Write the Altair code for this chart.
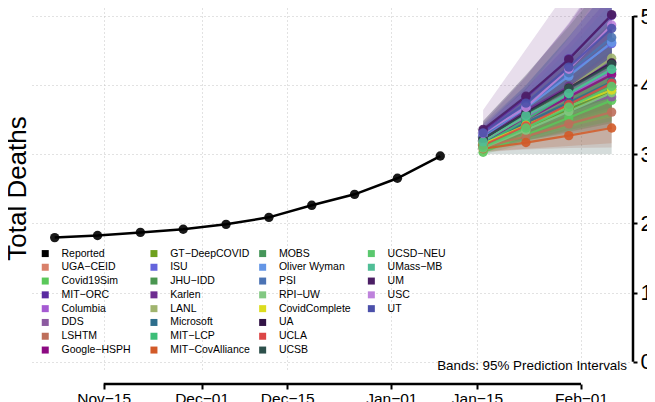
import altair as alt
import pandas as pd

FONT = "Liberation Sans"

# ---------------- data ----------------
reported_dates = ["2020-11-07", "2020-11-14", "2020-11-21", "2020-11-28", "2020-12-05",
                  "2020-12-12", "2020-12-19", "2020-12-26", "2021-01-02", "2021-01-09"]
reported_deaths = [17950, 18250, 18700, 19150, 19870, 20880, 22620, 24210, 26530, 29750]

forecast_dates = ["2021-01-16", "2021-01-23", "2021-01-30", "2021-02-06"]

models = ["UGA\u2212CEID", "Covid19Sim", "MIT\u2212ORC", "Columbia", "DDS", "LSHTM", "Google\u2212HSPH",
          "GT\u2212DeepCOVID", "ISU", "JHU\u2212IDD", "Karlen", "LANL", "Microsoft", "MIT\u2212LCP",
          "MIT\u2212CovAlliance", "MOBS", "Oliver Wyman", "PSI", "RPI\u2212UW", "CovidComplete",
          "UA", "UCLA", "UCSB", "UCSD\u2212NEU", "UMass\u2212MB", "UM", "USC", "UT"]
model_colors = ["#d9806a", "#5ac85a", "#5a2aa0", "#a55ad2", "#8c5aa0", "#be6e5a", "#8c0a82",
                "#6ea01e", "#6464dc", "#4a9650", "#6e2d91", "#a0b46e", "#2d6e8c", "#3cbe78",
                "#d25a28", "#46965a", "#6496e6", "#4b73b4", "#82c882", "#dcdc1e",
                "#321446", "#dc4646", "#2d504b", "#5ac86e", "#50be96", "#4b1e64", "#be82dc", "#4b50aa"]

fc_mid = [
    [31200, 34000, 36900, 39700], [30300, 32800, 35300, 37800], [33400, 38200, 43800, 50100],
    [32400, 35400, 38600, 41900], [32100, 34600, 37000, 38300], [31000, 32600, 34400, 36100],
    [31800, 35000, 38300, 41500], [31200, 33800, 36500, 39000], [32800, 36900, 41600, 46000],
    [31500, 34300, 37000, 39800], [32500, 36300, 39800, 43300], [31900, 35600, 39600, 43900],
    [31600, 34600, 37500, 40500], [31400, 35000, 38800, 42300], [30800, 31700, 32700, 33800],
    [31300, 34000, 36700, 39400], [32600, 36700, 41300, 46200], [32700, 37000, 41800, 46900],
    [30900, 33500, 36200, 38900], [31500, 34200, 36900, 39300], [32200, 36000, 39600, 43200],
    [31300, 34100, 37200, 40300], [32300, 35800, 39500, 43000], [31000, 33800, 36800, 39800],
    [31800, 35600, 38800, 42300], [33600, 38400, 43700, 50200], [33000, 36800, 42300, 48700],
    [33100, 37400, 42600, 48200]]
fc_lo = [
    [30600, 32000, 33200, 34500], [30000, 31500, 32800, 34000], [32400, 35600, 39000, 42500],
    [31300, 32900, 34300, 35700], [30800, 32000, 33000, 33800], [30300, 30700, 30900, 31000],
    [31000, 33000, 35000, 36800], [30500, 32000, 33500, 34800], [31800, 34500, 37300, 40000],
    [30600, 32000, 33300, 34500], [31600, 34200, 36400, 38500], [31000, 33500, 36000, 38600],
    [30900, 32800, 34700, 36500], [30700, 33200, 35800, 38200], [30400, 30800, 31200, 31600],
    [30600, 32300, 34000, 35500], [31700, 34500, 37500, 40500], [31600, 34300, 37200, 40000],
    [30300, 31800, 33300, 34800], [30800, 32500, 34000, 35400], [31300, 33700, 36000, 38200],
    [30600, 32400, 34300, 36200], [30000, 30000, 30000, 30000], [30300, 32000, 33800, 35600],
    [30900, 33400, 35600, 37800], [32500, 35800, 39200, 42800], [32000, 34500, 38000, 42000],
    [32000, 34800, 38300, 42000]]
fc_hi = [
    [31900, 36000, 40600, 45000], [30800, 34200, 37900, 41800], [34500, 41200, 49000, 58000],
    [34000, 39600, 45900, 53000], [36400, 45200, 54000, 62000], [32000, 35500, 39500, 44000],
    [32800, 37200, 41800, 46500], [32000, 35800, 39600, 43500], [33900, 39500, 46000, 53000],
    [32600, 37000, 41500, 46500], [33500, 38600, 43500, 48500], [33000, 38000, 43600, 49500],
    [32400, 36600, 40600, 45000], [32200, 37000, 42000, 47000], [31300, 32800, 34400, 36200],
    [32100, 36000, 39800, 43800], [33600, 39000, 45200, 52000], [33900, 40000, 47000, 54500],
    [31600, 35300, 39200, 43200], [32300, 36000, 40000, 43800], [33200, 38400, 43600, 49000],
    [32100, 36000, 40300, 44800], [34800, 41500, 48500, 56000], [31800, 35800, 40000, 44500],
    [32800, 37900, 42300, 47200], [34800, 41400, 48800, 57500], [34100, 39300, 46800, 55500],
    [34300, 40000, 47000, 54500]]

legend_columns = [
    ["Reported", "UGA\u2212CEID", "Covid19Sim", "MIT\u2212ORC", "Columbia", "DDS", "LSHTM", "Google\u2212HSPH"],
    ["GT\u2212DeepCOVID", "ISU", "JHU\u2212IDD", "Karlen", "LANL", "Microsoft", "MIT\u2212LCP", "MIT\u2212CovAlliance"],
    ["MOBS", "Oliver Wyman", "PSI", "RPI\u2212UW", "CovidComplete", "UA", "UCLA", "UCSB"],
    ["UCSD\u2212NEU", "UMass\u2212MB", "UM", "USC", "UT"],
]

x_ticks = [(2020, 11, 15), (2020, 12, 1), (2020, 12, 15), (2021, 1, 1), (2021, 1, 15), (2021, 2, 1)]
y_ticks = [0, 10000, 20000, 30000, 40000, 50000]
band_note = "Bands: 95% Prediction Intervals"

# ---------------- tables ----------------
color_of = {"Reported": "black"}
color_of.update(dict(zip(models, model_colors)))

# Vega fills a multi-column vertical legend column by column; pad the last
# column with empty entries so every column has the same number of rows.
n_rows = max(len(col) for col in legend_columns)
legend_domain, legend_range = [], []
blank = 0
for col in legend_columns:
    for r in range(n_rows):
        if r < len(col):
            legend_domain.append(col[r])
            legend_range.append(color_of[col[r]])
        else:
            blank += 1
            legend_domain.append(" " * blank)
            legend_range.append("rgba(0,0,0,0)")

rep_df = pd.DataFrame({"date": reported_dates, "deaths": reported_deaths, "model": "Reported"})
rows = []
for i, m in enumerate(models):
    for j, d in enumerate(forecast_dates):
        rows.append({"date": d, "deaths": fc_mid[i][j], "lo": fc_lo[i][j], "hi": fc_hi[i][j], "model": m})
fc_df = pd.DataFrame(rows)
pts_df = pd.concat([rep_df, fc_df[["date", "deaths", "model"]]], ignore_index=True)

# ---------------- scales / axes ----------------
xscale = alt.Scale(type="utc",
                   domain=[alt.DateTime(year=2020, month=11, date=3, hours=7, utc=True),
                           alt.DateTime(year=2021, month=2, date=9, hours=0, utc=True)])
yscale = alt.Scale(domain=[-1490, 51160], nice=False, zero=False)
legend_scale = alt.Scale(domain=legend_domain, range=legend_range)


def model_scale():
    return alt.Scale(domain=models, range=model_colors)


grid_color = "#c4c4c4"
xaxis = alt.Axis(values=[alt.DateTime(year=a, month=b, date=c, utc=True) for a, b, c in x_ticks],
                 format="%b\u2212%d", title=None, orient="bottom", offset=12, domain=False,
                 tickSize=5, tickWidth=2, tickColor="black", labelFontSize=15.5,
                 labelColor="black", labelFont=FONT, labelPadding=2, labelFlush=False,
                 labelOverlap=False, grid=True, gridDash=[1, 3], gridColor=grid_color, gridWidth=1)
left_axis = alt.Axis(orient="left", values=y_ticks, labels=False, ticks=False, domain=False,
                     grid=True, gridDash=[1, 3], gridColor=grid_color, gridWidth=1,
                     title="Total Deaths", titleFont=FONT, titleFontSize=26,
                     titleFontWeight="normal", titleColor="black", titleAngle=270,
                     titleX=-15, titleY=180, titleAlign="center", titleBaseline="middle")
right_axis = alt.Axis(orient="right", values=y_ticks, format="d", title=None, domain=False,
                      grid=False, offset=3, tickSize=4, tickWidth=2, tickColor="black",
                      labelFontSize=22, labelFont=FONT, labelColor="black", labelPadding=3,
                      labelFlush=False, labelOverlap=False)
legend = alt.Legend(orient="none", legendX=8, legendY=240.2, columns=4, title=None,
                    symbolType="square", symbolSize=49, symbolOpacity=1, symbolStrokeWidth=0,
                    symbolLimit=0,
                    labelFont=FONT, labelFontSize=10.5, labelLimit=200, labelColor="black",
                    labelOffset=11, rowPadding=2.8, columnPadding=6.7, gridAlign="all", padding=0)

X = alt.X("date:T", scale=xscale, axis=xaxis)

bands = alt.Chart(fc_df).mark_area(opacity=0.2, clip=True).encode(
    x=X,
    y=alt.Y("lo:Q", scale=yscale, axis=left_axis),
    y2="hi:Q",
    fill=alt.Fill("model:N", scale=model_scale(), legend=None),
)
rep_line = alt.Chart(rep_df).mark_line(color="black", strokeWidth=2.5).encode(
    x=X, y=alt.Y("deaths:Q", scale=yscale, axis=None))
fc_lines = alt.Chart(fc_df).mark_line(strokeWidth=2.2, opacity=0.85).encode(
    x=X, y=alt.Y("deaths:Q", scale=yscale, axis=None),
    stroke=alt.Stroke("model:N", scale=model_scale(), legend=None))
points = alt.Chart(pts_df).mark_point(filled=True, size=88, opacity=0.9).encode(
    x=X, y=alt.Y("deaths:Q", scale=yscale, axis=right_axis),
    color=alt.Color("model:N", scale=legend_scale, legend=legend))

x_line = alt.Chart(pd.DataFrame({"start": ["2020-11-15"], "end": ["2021-02-01"]})).mark_rule(
    color="black", strokeWidth=2.5).encode(
    x=alt.X("start:T", scale=xscale, axis=xaxis), x2="end:T", y=alt.value(376))
y_line = alt.Chart(pd.DataFrame({"lo": [y_ticks[0]], "hi": [y_ticks[-1]]})).mark_rule(
    color="black", strokeWidth=2.5).encode(
    x=alt.value(601), y=alt.Y("lo:Q", scale=yscale, axis=None), y2="hi:Q")
note = alt.Chart(pd.DataFrame({"t": [band_note]})).mark_text(
    align="right", baseline="middle", font=FONT, fontSize=13.4, color="black").encode(
    text="t:N", x=alt.value(595), y=alt.value(358))

chart = alt.layer(bands, rep_line, fc_lines, points, x_line, y_line, note).resolve_axis(
    y="independent").properties(
    width=598, height=364,
    padding={"left": 24, "top": 0, "right": 17, "bottom": 30},
    autosize=alt.AutoSizeParams(type="none"),
    background="white",
).configure_view(stroke=None)

chart.save("out.html", embed_options={"renderer": "svg", "actions": False})
